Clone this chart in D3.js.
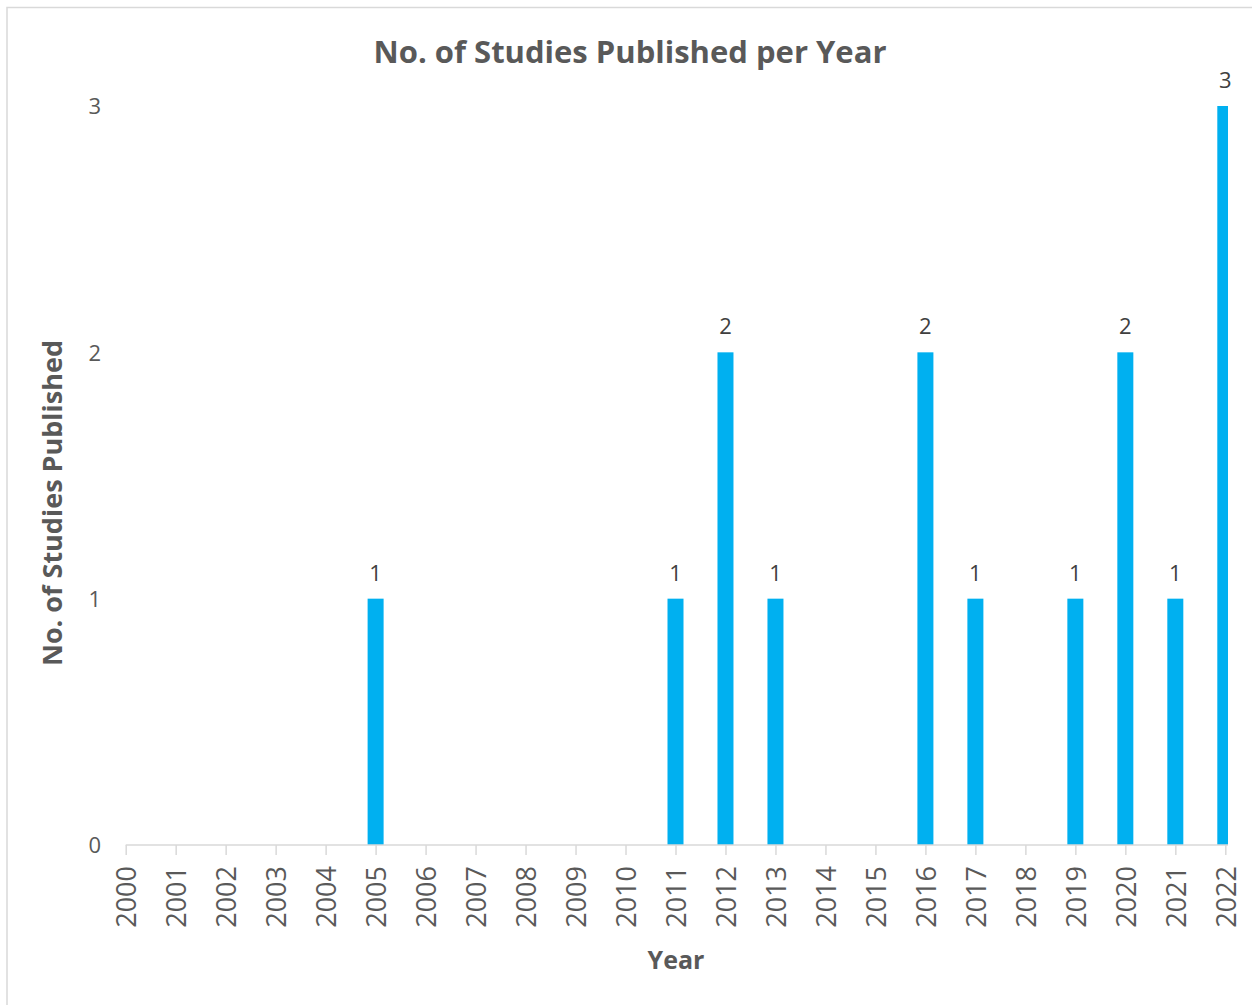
<!DOCTYPE html>
<html>
<head>
<meta charset="utf-8">
<script src="https://cdn.jsdelivr.net/npm/d3@7"></script>
<style>
  html, body { margin: 0; padding: 0; background: #ffffff; }
  svg { display: block; }
  text { font-family: "Open Sans", "Noto Sans", sans-serif; }
</style>
</head>
<body>
<svg id="chart" width="1252" height="1005"></svg>
<script>
// Publication counts per year
const years = [2000, 2001, 2002, 2003, 2004, 2005, 2006, 2007, 2008, 2009, 2010, 2011,
               2012, 2013, 2014, 2015, 2016, 2017, 2018, 2019, 2020, 2021, 2022];
const studies = [0, 0, 0, 0, 0, 1, 0, 0, 0, 0, 0, 1,
                 2, 1, 0, 0, 2, 1, 0, 1, 2, 1, 3];
const yTicks = [0, 1, 2, 3];

const chartTitle = "No. of Studies Published per Year";
const xTitle = "Year";
const yTitle = "No. of Studies Published";

const svg = d3.select("#chart");
const W = 1252, H = 1005;

// chart frame
svg.append("rect")
  .attr("x", 7).attr("y", 7.5)
  .attr("width", W + 20).attr("height", H + 20)
  .attr("fill", "#ffffff")
  .attr("stroke", "#d9d9d9").attr("stroke-width", 1.5);

const x = d3.scaleLinear().domain([2000, 2022]).range([125.7, 1225.3]);
const y = d3.scaleLinear().domain([0, 3]).range([845, 106]);
const plotRight = 1228;
const barW = 16;

// plot-area clip (the last bar is cut at the plot edge)
svg.append("defs").append("clipPath").attr("id", "plot-clip")
  .append("rect")
  .attr("x", 100).attr("y", 60)
  .attr("width", plotRight - 100).attr("height", 800);

const data = years.map((yr, i) => ({ year: yr, value: studies[i] }));

// bars
svg.append("g").attr("clip-path", "url(#plot-clip)")
  .selectAll("rect").data(data.filter(d => d.value > 0)).join("rect")
  .attr("x", d => x(d.year) - barW / 2)
  .attr("y", d => y(d.value))
  .attr("width", barW)
  .attr("height", d => y(0) - y(d.value))
  .attr("fill", "#00b0f0");

// x axis
const xAxis = d3.axisBottom(x)
  .tickValues(years)
  .tickFormat(d3.format("d"))
  .tickSize(10)
  .tickSizeOuter(0);
const gx = svg.append("g").attr("transform", `translate(0,${y(0)})`).call(xAxis);
gx.select(".domain").attr("stroke", "#d9d9d9").attr("stroke-width", 1.5)
  .attr("d", `M${x(2000)},0H${plotRight}`);
gx.selectAll(".tick line").attr("stroke", "#d9d9d9").attr("stroke-width", 1.5);
gx.selectAll(".tick text")
  .attr("fill", "#595959")
  .style("font-size", "27px")
  .attr("transform", "rotate(-90)")
  .attr("text-anchor", "end")
  .attr("x", -21)
  .attr("y", 0)
  .attr("dy", "0.36em");

// y axis (labels only)
const yAxis = d3.axisLeft(y).tickValues(yTicks).tickFormat(d3.format("d")).tickSize(0).tickPadding(0);
const gy = svg.append("g").attr("transform", "translate(101,0)").call(yAxis);
gy.select(".domain").remove();
gy.selectAll(".tick text")
  .attr("fill", "#595959")
  .style("font-size", "22px")
  .attr("dy", "0.36em");

// value labels
svg.append("g").selectAll("text").data(data.filter(d => d.value > 0)).join("text")
  .attr("x", d => x(d.year))
  .attr("y", d => y(d.value) - 18)
  .attr("text-anchor", "middle")
  .attr("fill", "#404040")
  .style("font-size", "22px")
  .text(d => d.value);

// titles
svg.append("text")
  .attr("x", 630).attr("y", 63)
  .attr("text-anchor", "middle")
  .attr("fill", "#595959")
  .style("font-size", "31px").style("font-weight", "bold")
  .text(chartTitle);

svg.append("text")
  .attr("x", 676).attr("y", 969)
  .attr("text-anchor", "middle")
  .attr("fill", "#595959")
  .style("font-size", "25px").style("font-weight", "bold")
  .text(xTitle);

svg.append("text")
  .attr("transform", "translate(62,503) rotate(-90)")
  .attr("text-anchor", "middle")
  .attr("fill", "#595959")
  .style("font-size", "27px").style("font-weight", "bold")
  .text(yTitle);
</script>
</body>
</html>
